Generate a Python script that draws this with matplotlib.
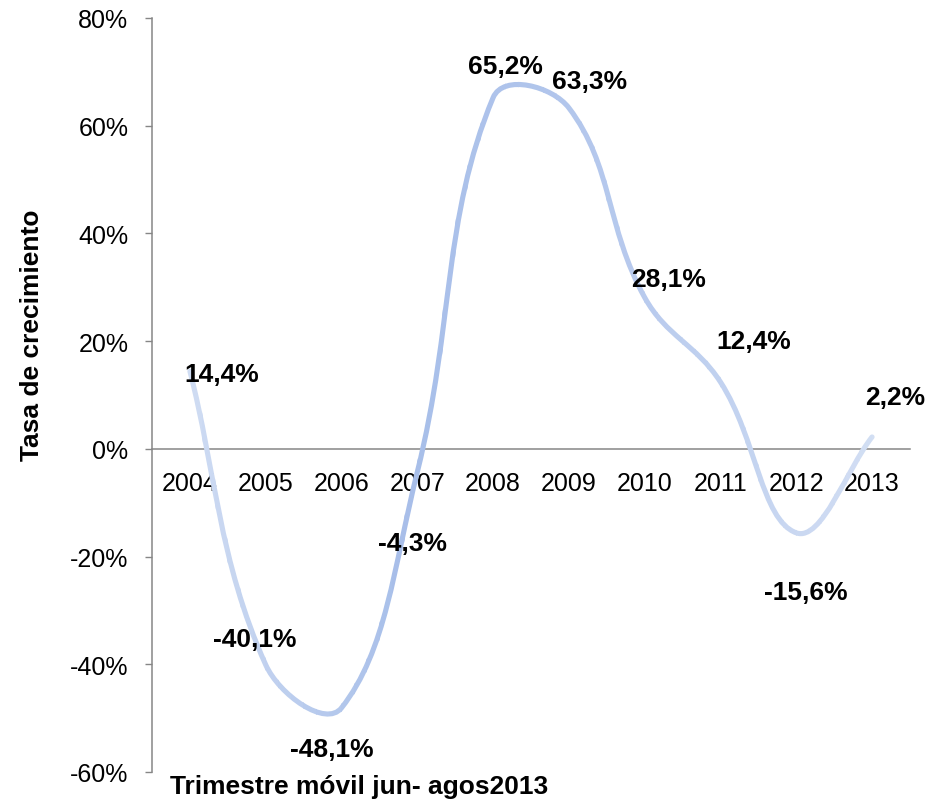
import numpy as np
import matplotlib
matplotlib.use('Agg')
import matplotlib.pyplot as plt
from matplotlib.path import Path
from matplotlib.patches import PathPatch, Rectangle
from matplotlib.colors import LinearSegmentedColormap
from matplotlib.ticker import FuncFormatter

plt.rcParams['font.family'] = ['Liberation Sans', 'DejaVu Sans']

# datos
years = ['2004', '2005', '2006', '2007', '2008', '2009', '2010', '2011', '2012', '2013']
growth = [14.4, -40.1, -48.1, -4.3, 65.2, 63.3, 28.1, 12.4, -15.6, 2.2]
value_labels = ['14,4%', '-40,1%', '-48,1%', '-4,3%', '65,2%', '63,3%', '28,1%', '12,4%', '-15,6%', '2,2%']

# posicion de las etiquetas (indice de categoria, %)
label_x = [0.42, 0.86, 1.87, 2.94, 4.16, 5.27, 6.32, 7.44, 8.12, 9.30]
label_y = [13.9, -35.3, -55.7, -17.5, 71.1, 68.3, 31.6, 20.1, -26.6, 9.7]

fig = plt.figure(figsize=(9.31, 8.04), dpi=100)
ax = fig.add_axes([0.1633, 0.0386, 0.8141, 0.9378])

x = np.arange(len(growth), dtype=float)
y = np.array(growth)

# linea suavizada estilo Excel: Bezier con tangentes escaladas por longitud de cuerda
# (las distancias se miden en pixeles aproximados: 75.8 px por categoria, 5.385 px por 1%)
px_scale = np.array([75.8, 5.385])
pts = np.column_stack([x, y])
ext = np.vstack([pts[0], pts, pts[-1]])
tension = 0.4


def dist(a, b):
    return np.hypot(*((b - a) * px_scale))


verts = [tuple(pts[0])]
codes = [Path.MOVETO]
for i in range(len(pts) - 1):
    p0, p1, p2, p3 = ext[i], ext[i + 1], ext[i + 2], ext[i + 3]
    d01, d12, d23 = dist(p0, p1), dist(p1, p2), dist(p2, p3)
    c1 = p1 + (p2 - p0) * tension * d12 / (d01 + d12) if d01 > 0 else p1 + (p2 - p1) / 3
    c2 = p2 - (p3 - p1) * tension * d12 / (d12 + d23) if d23 > 0 else p2 - (p2 - p1) / 3
    verts += [tuple(c1), tuple(c2), tuple(p2)]
    codes += [Path.CURVE4] * 3
curve = Path(verts, codes)

# degradado de color a lo largo de la linea
cmap = LinearSegmentedColormap.from_list(
    'grad', [(0.0, '#d6e1f4'), (0.33, '#a7bee9'), (0.62, '#b6c9ed'), (1.0, '#d6e1f4')])
n_strips = 60
edges = np.linspace(-0.5, 9.5, n_strips + 1)
for k in range(n_strips):
    x0, x1 = edges[k], edges[k + 1]
    frac = ((x0 + x1) / 2 + 0.5) / 10.0
    patch = PathPatch(curve, facecolor='none', edgecolor=cmap(frac), lw=3.7,
                      capstyle='round', joinstyle='round', zorder=3)
    ax.add_patch(patch)
    clip = Rectangle((x0 - 0.005, -100), (x1 - x0) + 0.01, 250, transform=ax.transData)
    patch.set_clip_path(clip)

# etiquetas de datos
for lx, ly, txt in zip(label_x, label_y, value_labels):
    ax.text(lx, ly, txt, ha='center', va='center', fontsize=19,
            fontweight='bold', color='black', zorder=4)

ax.set_xlim(-0.5, 9.5)
ax.set_ylim(-60, 80)
ax.set_yticks(np.arange(-60, 81, 20))
ax.yaxis.set_major_formatter(FuncFormatter(lambda v, p: f'{v:.0f}%'))
ax.set_xticks(x)
ax.set_xticklabels(years)

axis_gray = '#868686'
for s in ['top', 'right']:
    ax.spines[s].set_visible(False)
ax.spines['left'].set_color(axis_gray)
ax.spines['left'].set_linewidth(1.1)
ax.spines['bottom'].set_position(('data', 0))
ax.spines['bottom'].set_color(axis_gray)
ax.spines['bottom'].set_linewidth(1.1)

ax.tick_params(axis='y', direction='out', length=5, width=1, color=axis_gray,
               labelsize=18, pad=12)
ax.tick_params(axis='x', length=0, labelsize=18, pad=16)

fig.text(32 / 931, 1 - 335 / 804, 'Tasa de crecimiento', rotation=90,
         ha='center', va='center', fontsize=19, fontweight='bold')
fig.text(170 / 931, 1 - 787 / 804, 'Trimestre móvil jun- agos2013',
         ha='left', va='center', fontsize=19, fontweight='bold')

fig.savefig('out.png', dpi=100, facecolor='white')
